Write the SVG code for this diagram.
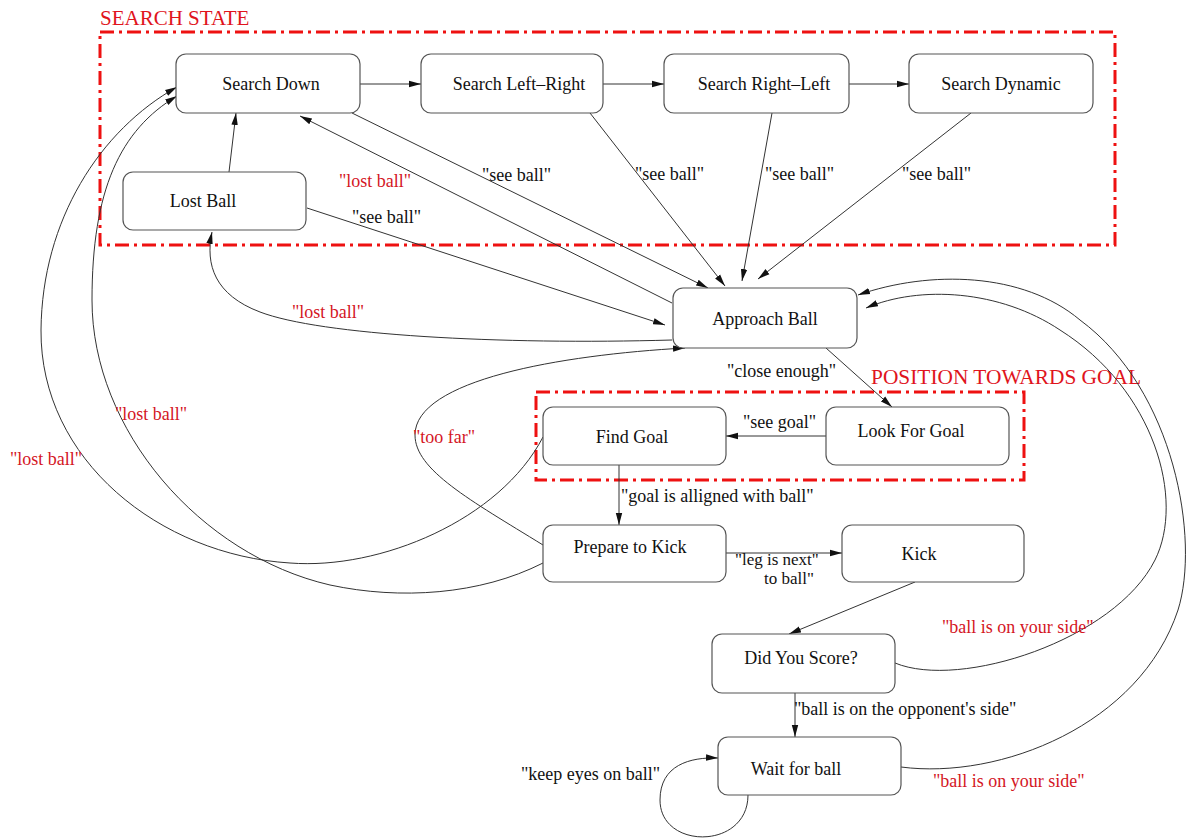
<svg xmlns="http://www.w3.org/2000/svg" width="1188" height="839" viewBox="0 0 1188 839">
<defs>
<style>
.node rect{fill:#fff;stroke:#555;stroke-width:1.2}
.node text{font-family:"Liberation Serif",serif;font-size:18px;fill:#111;text-anchor:middle}
.edge{fill:none;stroke:#333;stroke-width:1;marker-end:url(#ah)}
.lbl{font-family:"Liberation Serif",serif;font-size:18px;fill:#111}
.sm{font-size:17px}
.red{fill:#d4161f}
.cluster{fill:none;stroke:#ee1111;stroke-width:3;stroke-dasharray:14 5 3 5}
.ctitle{font-family:"Liberation Serif",serif;font-size:21px;fill:#e0141c}
</style>
<marker id="ah" markerWidth="12" markerHeight="8" refX="12" refY="4" orient="auto" markerUnits="userSpaceOnUse">
<path d="M0,0.8 L12,4 L0,7.2 z" fill="#111"/>
</marker>
</defs>
<rect width="1188" height="839" fill="#fff"/>

<g id="clusters">
<rect class="cluster" x="100" y="32" width="1015" height="213"/>
<text class="ctitle" x="100" y="25">SEARCH STATE</text>
<rect class="cluster" x="536" y="392" width="488" height="88"/>
<text class="ctitle" x="871" y="384" textLength="270" lengthAdjust="spacingAndGlyphs">POSITION TOWARDS GOAL</text>
</g>

<g id="connectors">
<path class="edge" d="M360,84 L421,84"/>
<path class="edge" d="M603,84 L664,84"/>
<path class="edge" d="M849,84 L909,84"/>
<path class="edge" d="M229,172 L236,113"/>
<path class="edge" d="M352,113 L708,288"/>
<path class="edge" d="M672,303 L300,116"/>
<path class="edge" d="M590,113 L725,286"/>
<path class="edge" d="M772,113 L742,281"/>
<path class="edge" d="M971,113 L758,279"/>
<path class="edge" d="M307,208 L665,325"/>
<path class="edge" d="M672,340 C500,345 320,335 260,312 C215,295 205,265 212,232"/>
<path class="edge" d="M826,348 L892,407"/>
<path class="edge" d="M826,436 L726,436"/>
<path class="edge" d="M619,465 L619,525"/>
<path class="edge" d="M726,553 L842,553"/>
<path class="edge" d="M915,582 L789,634"/>
<path class="edge" d="M795,693 L795,737"/>
<path class="edge" d="M748,795 C748,850 660,850 660,800 C660,765 690,757 718,758"/>
<path class="edge" d="M895,663 C960,690 1115,640 1155,560 C1185,500 1155,390 1060,330 C1000,290 920,285 866,308"/>
<path class="edge" d="M901,767 C1000,780 1140,725 1178,610 C1200,540 1175,390 1080,320 C1023,272 930,270 858,295"/>
<path class="edge" d="M543,437 C500,520 380,570 290,563 C160,555 40,460 41,330 C42,220 100,130 177,87"/>
<path class="edge" d="M543,563 C480,595 400,600 330,585 C200,555 92,430 92,300 C92,190 120,130 177,96"/>
<path class="edge" d="M543,545 C470,500 415,470 415,435 C415,380 560,355 685,348"/>
</g>

<g id="labels">
<text class="lbl" x="482" y="181">"see ball"</text>
<text class="lbl red" x="339" y="187">"lost ball"</text>
<text class="lbl" x="352" y="223">"see ball"</text>
<text class="lbl" x="635" y="180">"see ball"</text>
<text class="lbl" x="765" y="180">"see ball"</text>
<text class="lbl" x="902" y="180">"see ball"</text>
<text class="lbl red" x="292" y="318">"lost ball"</text>
<text class="lbl red" x="10" y="465">"lost ball"</text>
<text class="lbl red" x="115" y="420">"lost ball"</text>
<text class="lbl red" x="413" y="443">"too far"</text>
<text class="lbl" x="727" y="377">"close enough"</text>
<text class="lbl" x="743" y="428">"see goal"</text>
<text class="lbl" x="621" y="502">"goal is alligned with ball"</text>
<text class="lbl sm" x="735" y="565">"leg is next"</text>
<text class="lbl sm" x="764" y="584">to ball"</text>
<text class="lbl red" x="942" y="633">"ball is on your side"</text>
<text class="lbl" x="794" y="715">"ball is on the opponent's side"</text>
<text class="lbl" x="521" y="780">"keep eyes on ball"</text>
<text class="lbl red" x="933" y="787">"ball is on your side"</text>
</g>

<g id="n_search_down" class="node"><rect x="176" y="54" width="184" height="59" rx="10"/><text x="271" y="90">Search Down</text></g>
<g id="n_search_lr" class="node"><rect x="421" y="54" width="182" height="59" rx="10"/><text x="519" y="90">Search Left–Right</text></g>
<g id="n_search_rl" class="node"><rect x="664" y="54" width="185" height="59" rx="10"/><text x="764" y="90">Search Right–Left</text></g>
<g id="n_search_dyn" class="node"><rect x="909" y="54" width="184" height="59" rx="10"/><text x="1001" y="90">Search Dynamic</text></g>
<g id="n_lost_ball" class="node"><rect x="123" y="172" width="183" height="58" rx="10"/><text x="203" y="207">Lost Ball</text></g>
<g id="n_approach" class="node"><rect x="673" y="288" width="184" height="60" rx="10"/><text x="765" y="325">Approach Ball</text></g>
<g id="n_look_goal" class="node"><rect x="826" y="407" width="183" height="58" rx="10"/><text x="911" y="437">Look For Goal</text></g>
<g id="n_find_goal" class="node"><rect x="543" y="407" width="183" height="58" rx="10"/><text x="632" y="443">Find Goal</text></g>
<g id="n_prepare" class="node"><rect x="543" y="525" width="183" height="57" rx="10"/><text x="630" y="553">Prepare to Kick</text></g>
<g id="n_kick" class="node"><rect x="842" y="525" width="182" height="57" rx="10"/><text x="919" y="560">Kick</text></g>
<g id="n_score" class="node"><rect x="712" y="634" width="183" height="59" rx="10"/><text x="801" y="664">Did You Score?</text></g>
<g id="n_wait" class="node"><rect x="718" y="737" width="183" height="58" rx="10"/><text x="796" y="775">Wait for ball</text></g>
</svg>
